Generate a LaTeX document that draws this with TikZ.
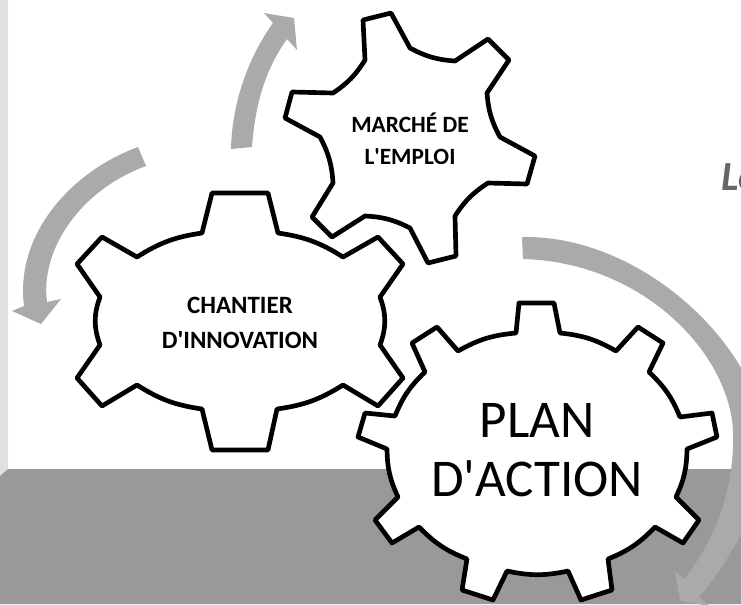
\documentclass[tikz,border=0pt]{standalone}
\usepackage{fontspec}
\setmainfont{Carlito}
\usepackage{tikz}

\definecolor{floorgray}{HTML}{999999}
\definecolor{wallgray}{HTML}{E0E0E0}
\definecolor{arrowgray}{HTML}{AAAAAA}
\definecolor{lettergray}{HTML}{666666}

\tikzset{
    gear/.style={draw=black, fill=white, line width=3.5pt, line join=round},
    rim/.style={bend left=12},
    siderim/.style={bend left=20},
    sweep/.style={fill=arrowgray, draw=none},
    smalllabel/.style={align=center, inner sep=0pt, font=\bfseries\fontsize{17.5}{24}\selectfont},
    widelabel/.style={align=center, inner sep=0pt, font=\bfseries\fontsize{18.7}{26}\selectfont},
    biglabel/.style={align=center, inner sep=0pt, font=\fontsize{39.8}{44.5}\selectfont}
}

\begin{document}
\begin{tikzpicture}[x=0.75pt, y=-0.75pt]
    \useasboundingbox (0,0) rectangle (741,604);
    \clip (0,0) rectangle (741,604);

    % wall and floor
    \fill[wallgray] (0,0) -- (8,0) -- (8,469) -- (0,476) -- cycle;
    \fill[floorgray] (0,476) -- (8,469) -- (741,469) -- (741,604) -- (0,604) -- cycle;

    % sweeping arrows
    \path[sweep] (231,149) .. controls (232,100) and (250,55) .. (273,23)
        -- (264,13) -- (294,18) -- (297,50) -- (287,39)
        .. controls (265,70) and (255,105) .. (252,147) -- cycle;
    \path[sweep] (138,147) .. controls (70,172) and (15,235) .. (24,306)
        -- (12,311) -- (41,324) -- (61,299) -- (47,302)
        .. controls (40,250) and (80,190) .. (146,166) -- cycle;
    \path[sweep] (522,237) .. controls (640,235) and (750,340) .. (765,430)
        .. controls (770,490) and (735,555) .. (699,597)
        -- (710,606) -- (680,601) -- (675,571) -- (684,579)
        .. controls (720,535) and (735,480) .. (733,430)
        .. controls (728,350) and (640,262) .. (523,259) -- cycle;

    % gears
    \draw[gear] (363,20) -- (365,60) to[rim] (333,93) -- (292,92) -- (285,118) -- (320,137)
        to[rim] (333,183) -- (312,217) -- (332,237) -- (365,216)
        to[rim] (410,228) -- (428,263) -- (456,256) -- (455,216)
        to[rim] (488,183) -- (527,184) -- (535,156) -- (500,137)
        to[rim] (487,93) -- (509,60) -- (488,39) -- (455,61)
        to[rim] (410,48) -- (391,13) -- cycle;
    \draw[gear] (212,193) -- (268,193) -- (278,233) to[rim] (343,257) -- (378,237) -- (403,264) -- (380,297)
        to[siderim] (380,345) -- (403,378) -- (378,406) -- (343,385)
        to[rim] (277,409) -- (268,450) -- (212,450) -- (202,409)
        to[rim] (137,385) -- (102,406) -- (77,378) -- (100,345)
        to[siderim] (100,297) -- (77,264) -- (102,237) -- (137,257)
        to[rim] (202,233) -- cycle;
    \draw[gear] (519,303) -- (554,303) -- (560,333) to[rim] (616,351) -- (638,327) -- (663,343) -- (649,372)
        to[rim] (680,417) -- (712,413) -- (717,437) -- (687,449)
        to[rim] (676,497) -- (699,520) -- (683,543) -- (655,527)
        to[rim] (608,559) -- (612,590) -- (581,600) -- (568,571)
        to[rim] (507,571) -- (493,600) -- (462,590) -- (467,559)
        to[rim] (419,527) -- (392,543) -- (375,520) -- (398,497)
        to[rim] (387,449) -- (358,437) -- (365,413) -- (395,416)
        to[rim] (425,372) -- (412,343) -- (437,327) -- (458,351)
        to[rim] (516,333) -- cycle;

    % labels
    \node[smalllabel] (marche) at (410,139) {MARCHÉ DE\\L\textquotesingle EMPLOI};
    \node[widelabel] (chantier) at (240,323) {CHANTIER\\D\textquotesingle INNOVATION};
    \node[biglabel] (plan) at (537,450) {PLAN\\D\textquotesingle ACTION};
    \node[anchor=base west, inner sep=0pt, text=lettergray, font=\bfseries\itshape\fontsize{31}{31}\selectfont] (side) at (721,190) {Lo};
\end{tikzpicture}
\end{document}
